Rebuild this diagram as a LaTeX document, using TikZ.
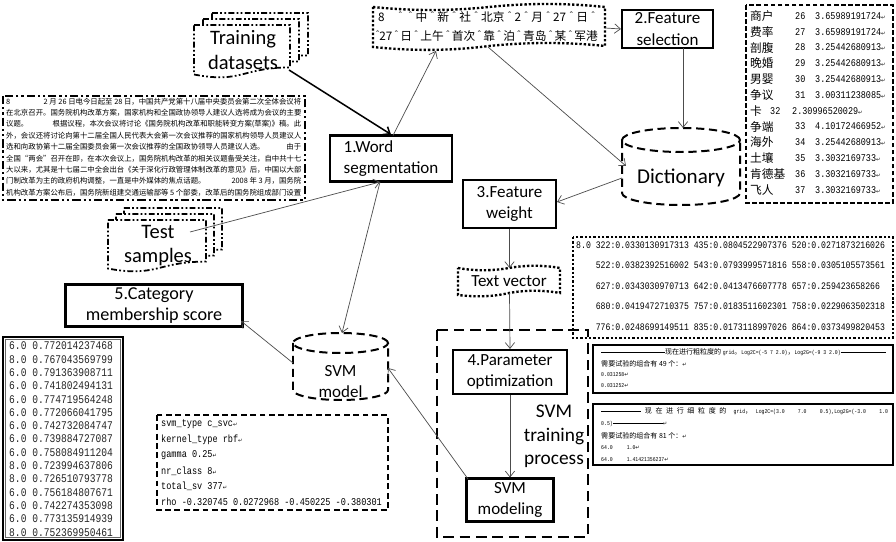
\documentclass[tikz,border=0pt]{standalone}
\usepackage{fontspec}
\setmainfont{Carlito}
\newfontfamily\cjk{Noto Sans CJK SC}
\newfontfamily\nmono[FakeStretch=0.82]{Liberation Mono}
\newfontfamily\dvs{DejaVu Sans}
\newfontfamily\lser{Liberation Serif}
\usetikzlibrary{arrows.meta,calc}
\newcommand{\ret}{{\dvs\fontsize{4.5}{5}\selectfont ↵}}
\newcommand{\crt}{\hfil\raisebox{2.5pt}{\lser\fontsize{8}{8}\selectfont ˆ}\hfil}
\newcommand{\rfill}[1]{\leaders\hrule height 2.4pt depth -1.9pt\hskip 0pt plus #1fill\relax}
\newcommand{\smlat}[1]{{\nmono\fontsize{5}{6}\selectfont #1}}
\newcommand{\onedoc}[4]{%
 \pgfmathsetmacro{\dxa}{#1}\pgfmathsetmacro{\dxb}{#1+#3}\pgfmathsetmacro{\dxm}{#1+0.5*#3}%
 \pgfmathsetmacro{\dyt}{#2}\pgfmathsetmacro{\dyr}{#2+0.8*#4}\pgfmathsetmacro{\dyc}{#2+1.108*#4}\pgfmathsetmacro{\dyl}{#2+0.934*#4}%
 \filldraw[ddd] (\dxa,\dyt) -- (\dxb,\dyt) -- (\dxb,\dyr) .. controls (\dxm,\dyr) and (\dxm,\dyc) .. (\dxa,\dyl) -- cycle;}
\begin{document}
\begin{tikzpicture}[x=0.03cm,y=-0.03cm,
 box/.style={draw, line width=1.8pt, inner sep=0pt, align=center, font=\fontsize{14.5}{18.5}\selectfont},
 arr/.style={draw=black!70, line width=0.6pt, -{Straight Barb[length=5pt,width=8pt]}},
 dotb/.style={line width=2pt, dash pattern=on 2pt off 1.7pt},
 dashb/.style={line width=1.7pt, dash pattern=on 7pt off 4pt},
 ddd/.style={line width=1.5pt, dash pattern=on 5pt off 2pt on 1.5pt off 2pt on 1.5pt off 2pt, fill=white},
 lbl/.style={anchor=west, inner sep=0pt}]
\fill[white] (0,0) rectangle (896,542);
\useasboundingbox (0,0) rectangle (896,542);

% ---------- Training datasets stack
\onedoc{212}{13}{96}{53}
\onedoc{203}{19}{96}{53}
\onedoc{194}{25}{96}{53}
\node[align=center, font=\fontsize{17.5}{21}\selectfont] (trn) at (243,50) {Training\\datasets};
% ---------- Test samples stack
\onedoc{124}{208}{98}{52}
\onedoc{116}{214}{98}{52}
\onedoc{108}{220}{98}{52}
\node[align=center, font=\fontsize{17.5}{21}\selectfont] (tst) at (158,245.5) {Test\\samples};

% ---------- left raw text block
\draw[line width=2pt, dash pattern=on 7pt off 2.5pt on 2pt off 2.5pt on 2pt off 2.5pt] (3,96) rectangle (305,200);
\begin{scope}[every node/.style={lbl, font=\cjk\fontsize{6.3}{7}\selectfont}]
\node (lt1) at (6,101.5) {\hbox to 8.85cm{8\hfil 2 月 26 日电今日起至 28 日，中国共产党第十八届中央委员会第二次全体会议将}};
\node (lt2) at (6,112.9) {\hbox to 8.85cm{在北京召开。国务院机构改革方案，国家机构和全国政协领导人建议人选将成为会议的主要\hfil}};
\node (lt3) at (6,124.2) {\hbox to 8.85cm{议题。\hfil 根据议程，本次会议将讨论《国务院机构改革和职能转变方案(草案)》稿。此}};
\node (lt4) at (6,135.6) {\hbox to 8.85cm{外，会议还将讨论向第十二届全国人民代表大会第一次会议推荐的国家机构领导人员建议人\hfil}};
\node (lt5) at (6,147.0) {\hbox to 8.85cm{选和向政协第十二届全国委员会第一次会议推荐的全国政协领导人员建议人选。\hfil 由于}};
\node (lt6) at (6,158.4) {\hbox to 8.85cm{全国“两会”召开在即，在本次会议上，国务院机构改革的相关议题备受关注，自中共十七\hfil}};
\node (lt7) at (6,169.8) {\hbox to 8.85cm{大以来，尤其是十七届二中全会出台《关于深化行政管理体制改革的意见》后，中国以大部\hfil}};
\node (lt8) at (6,181.1) {\hbox to 8.85cm{门制改革为主的政府机构调整，一直是中外媒体的焦点话题。\hfil 2008 年 3 月，国务院}};
\node (lt9) at (6,192.5) {\hbox to 8.85cm{机构改革方案公布后，国务院新组建交通运输部等 5 个部委，改革后的国务院组成部门设置\hfil}};
\end{scope}

% ---------- segmented text tape
\draw[dotb] (373,7) .. controls (412,11) and (450,11) .. (489,7) .. controls (528,3) and (566,3) .. (605,7) -- (605,46) .. controls (566,42) and (528,42) .. (489,46) .. controls (450,51) and (412,51) .. (373,47) -- cycle;
\node[lbl, font=\cjk\fontsize{10}{10}\selectfont] (tp1) at (378,17) {\hbox to 6.6cm{8\hskip 0pt plus 3fil\crt\crt 中\crt 新\crt 社\crt 北京\crt 2\crt 月\crt 27\crt 日\crt}};
\node[lbl, font=\cjk\fontsize{10}{10}\selectfont] (tp2) at (376,36) {\hbox to 6.65cm{\raisebox{2.5pt}{\lser\fontsize{8}{8}\selectfont ˆ}27\crt 日\crt 上午\crt 首次\crt 靠\crt 泊\crt 青岛\crt 某\crt 军港}};

% ---------- boxes
\node[box, minimum width=2.73cm, minimum height=1.14cm] (fs) at (667.5,29) {2.Feature\\selection};
\node[box, align=left, minimum width=3.66cm, minimum height=1.38cm] (ws) at (391,158.5) {1.Word\\segmentation};
\node[box, minimum width=2.79cm, minimum height=1.44cm] (fw) at (509.5,204) {3.Feature\\weight};
\node[box, minimum width=3.42cm, minimum height=1.32cm] (po) at (510,372) {4.Parameter\\optimization};
\node[box, minimum width=2.61cm, minimum height=1.29cm] (sm) at (510,500) {SVM\\modeling};
\node[box, minimum width=5.31cm, minimum height=1.26cm, font=\fontsize{15.5}{18.5}\selectfont] (cat) at (154,305.5) {5.Category\\membership score};

% ---------- text vector tape
\draw[dotb] (458,268) .. controls (475,271) and (492,271) .. (509,268) .. controls (526,265) and (543,265) .. (560,268) -- (560,293) .. controls (543,290) and (526,290) .. (509,293) .. controls (492,297) and (475,297) .. (458,295) -- cycle;
\node[font=\fontsize{14.5}{17}\selectfont] (tv) at (509,281) {Text vector};

% ---------- SVM training process
\draw[line width=1.6pt, dash pattern=on 9pt off 5pt] (437,330) rectangle (588,537);
\node[align=center, font=\fontsize{16.5}{20}\selectfont] (stp) at (554,436.5) {SVM\\training\\process};

% ---------- Dictionary cylinder
\draw[dashb] (622,140) -- (622,193) arc[start angle=180, end angle=360, x radius=1.77cm, y radius=0.36cm] -- (740,140);
\draw[dashb] (681,140) ellipse[x radius=1.77cm, y radius=0.36cm];
\node[font=\fontsize{18}{20}\selectfont] (dict) at (681,178) {Dictionary};

% ---------- SVM model cylinder
\draw[dashb] (293,343) -- (293,390) arc[start angle=180, end angle=360, x radius=1.425cm, y radius=0.3cm] -- (388,343);
\draw[dashb] (340.5,343) ellipse[x radius=1.425cm, y radius=0.3cm];
\node[align=center, font=\fontsize{14.5}{18}\selectfont] (svmm) at (340.5,382) {SVM\\model};

% ---------- Dictionary list
\draw[line width=1.4pt, dash pattern=on 4pt off 2pt] (746,5) rectangle (893,203);
\foreach \w/\n/\v/\yy [count=\i] in {商户/26/3.65989191724/16, 费率/27/3.65989191724/31.8, 剖腹/28/3.25442680913/47.6, 晚婚/29/3.25442680913/63.4, 男婴/30/3.25442680913/79.2, 争议/31/3.00311238085/95, 争端/33/4.10172466952/126.6, 海外/34/3.25442680913/142.4, 土壤/35/3.3032169733/158.2, 肯德基/36/3.3032169733/174, 飞人/37/3.3032169733/189.8}{
 \node[lbl, font=\cjk\fontsize{10}{10}\selectfont] (dw\i) at (750,\yy) {\w};
 \node[lbl, font=\nmono\fontsize{8.8}{10}\selectfont] (dn\i) at (795,\yy) {\n};
 \node[lbl, font=\nmono\fontsize{8.8}{10}\selectfont] (dv\i) at (815,\yy) {\v\ret};
}
\node[lbl, font=\cjk\fontsize{10}{10}\selectfont] (dwk) at (750,110.8) {卡};
\node[lbl, font=\nmono\fontsize{8.8}{10}\selectfont] (dnk) at (770,110.8) {32};
\node[lbl, font=\nmono\fontsize{8.8}{10}\selectfont] (dvk) at (792,110.8) {2.30996520029\ret};

% ---------- Text vector data
\draw[dotb] (573,237) rectangle (893,338);
\begin{scope}[every node/.style={lbl, font=\nmono\fontsize{8.5}{9}\selectfont}]
\node (vd1) at (576,245) {8.0 322:0.0330130917313 435:0.0804522907376 520:0.0271873216026};
\node (vd2) at (576,265.5) {\phantom{8.0 }522:0.0382392516002 543:0.0793999571816 558:0.0305105573561};
\node (vd3) at (576,286) {\phantom{8.0 }627:0.0343030970713 642:0.0413476607778 657:0.259423658266};
\node (vd4) at (576,306.5) {\phantom{8.0 }680:0.0419472710375 757:0.0183511602301 758:0.0229063502318};
\node (vd5) at (576,327) {\phantom{8.0 }776:0.0248699149511 835:0.0173118997026 864:0.0373499820453};
\end{scope}

% ---------- grid boxes
\draw[line width=1.6pt] (593,345) rectangle (893,393);
\draw[line width=1.6pt] (593,404) rectangle (893,465);
\begin{scope}[every node/.style={lbl, font=\cjk\fontsize{6}{7}\selectfont}]
\node (g11) at (601,352.5) {\hbox to 8.55cm{\rfill{1.4}现在进行粗粒度的 \smlat{grid}。\smlat{Log2C=(-5 7 2.0)}，\smlat{Log2G=(-9 3 2.0)}\rfill{1}}};
\node (g12) at (601,363.5) {需要试验的组合有 49 个：\ret};
\node (g13) at (601,374.5) {\smlat{0.031258}\ret};
\node (g14) at (601,385.5) {\smlat{0.031252}\ret};
\node (g21) at (601,411.5) {\hbox to 8.6cm{\vrule width 1.2cm height 2.4pt depth -1.9pt\ 现\ 在\ 进\ 行\ 细\ 粒\ 度\ 的\ \ \smlat{grid}，\ \smlat{Log2C=(3.0\ \ 7.0\ \ 0.5),Log2G=(-3.0\ \ 1.0}}};
\node (g22) at (601,424) {\smlat{0.5)}\vrule width 1.5cm height 2.4pt depth -1.9pt\ret};
\node (g23) at (601,436) {需要试验的组合有 81 个：\ret};
\node (g24) at (601,448) {\smlat{64.0\hspace{12pt}1.0}\ret};
\node (g25) at (601,459.5) {\smlat{64.0\hspace{12pt}1.41421356237}\ret};
\end{scope}

% ---------- Category scores column
\draw[line width=1.5pt] (3,337) rectangle (123,540);
\draw[line width=0.4pt, black!60] (5.5,339.5) rectangle (120.5,537.5);
\foreach \v [count=\i] in {6.0 0.772014237468, 8.0 0.767043569799, 6.0 0.791363908711, 6.0 0.741802494131, 6.0 0.774719564248, 6.0 0.772066041795, 6.0 0.742732084747, 6.0 0.739884727087, 6.0 0.758084911204, 8.0 0.723994637806, 8.0 0.726510793778, 6.0 0.756184807671, 6.0 0.742274353098, 6.0 0.773135914939, 8.0 0.752369950461}{
 \node[lbl, font=\nmono\fontsize{10}{11}\selectfont, text=black!85] (nc\i) at (9,{346+13.3*(\i-1)}) {\v};
}

% ---------- SVM model parameters
\draw[line width=1.4pt, dash pattern=on 5pt off 3pt] (157,415) rectangle (388,510);
\begin{scope}[every node/.style={lbl, font=\nmono\fontsize{8.9}{10}\selectfont}]
\node (sp1) at (161,424) {svm\_type c\_svc\ret};
\node (sp2) at (161,439.6) {kernel\_type rbf\ret};
\node (sp3) at (161,455.2) {gamma 0.25\ret};
\node (sp4) at (161,470.8) {nr\_class 8\ret};
\node (sp5) at (161,486.4) {total\_sv 377\ret};
\node (sp6) at (161,502) {rho -0.320745 0.0272968 -0.450225 -0.380301};
\end{scope}

% ---------- connector end points
\coordinate (trainC) at (289,70);
\coordinate (tapeB1) at (436,51);
\coordinate (tapeB2) at (488,47);
\coordinate (tapeR) at (605,28);
\coordinate (fsB) at (683,48);
\coordinate (dictT) at (683,128);
\coordinate (dictL1) at (626,166);
\coordinate (dictL2) at (622,178);
\coordinate (fwR) at (557,202);
\coordinate (tvT) at (509.5,268);
\coordinate (tvB) at (509.5,293);
\coordinate (testC) at (190,232);
\coordinate (wsT) at (393,135.5);
\coordinate (wsB) at (380,182);
\coordinate (svmT) at (342,333);
\coordinate (svmR) at (388,368);
\coordinate (svmL) at (293,363);
\coordinate (catR) at (241,321);
\coordinate (smTL) at (468,479);

% ---------- connectors
\draw[arr, draw=black, line width=1.3pt] (trainC) -- (ws.north);
\draw[arr] (wsT) -- (tapeB1);
\draw[arr] (tapeR) -- (fs.west);
\draw[arr] (tapeB2) -- (dictL1);
\draw[arr] (fsB) -- (dictT);
\draw[arr] (dictL2) -- (fwR);
\draw[arr] (fw.south) -- (tvT);
\draw[arr] (tvB) -- (po.north);
\draw[arr] (po.south) -- (sm.north);
\draw[arr] (smTL) -- (svmR);
\draw[arr] (svmL) -- (catR);
\draw[arr] (testC) -- (wsB);
\draw[arr] (wsB) -- (svmT);
\end{tikzpicture}
\end{document}
